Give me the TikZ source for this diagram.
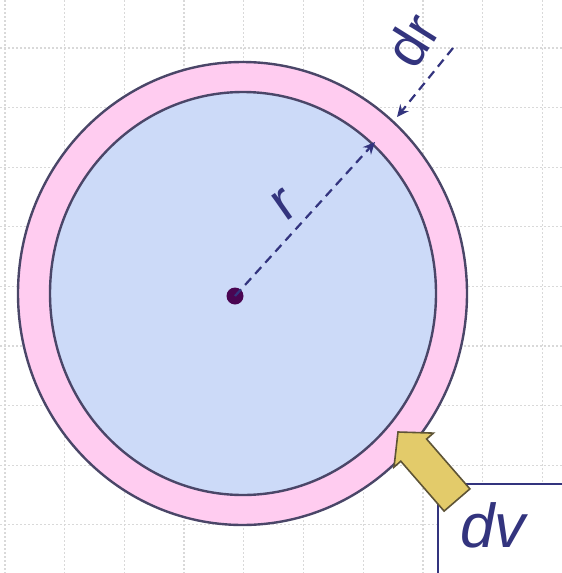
\documentclass[tikz,border=0pt]{standalone}
\usepackage{fontspec}
\setmainfont{Liberation Sans}
\usepackage{tikz}
\usetikzlibrary{arrows.meta,calc}
\definecolor{ringpink}{HTML}{FFCCF0}
\definecolor{coreblue}{HTML}{CCDAF8}
\definecolor{rimline}{HTML}{4A4668}
\definecolor{inkblue}{HTML}{33347E}
\definecolor{dotpurple}{HTML}{4A0552}
\definecolor{arrowgold}{HTML}{E3CB6A}
\definecolor{arrowedge}{HTML}{5E5436}

\begin{document}
\begin{tikzpicture}[
  x=1pt, y=-1pt,
  gridline/.style={draw=gray!30, line width=1.3pt, dash pattern=on 1.5pt off 2.5pt},
  rim/.style={draw=rimline, line width=2.4pt},
  dimarr/.style={draw=inkblue, line width=2.2pt, dash pattern=on 9pt off 6pt, -{Stealth[length=12pt, width=11pt]}},
  lbl/.style={text=inkblue, inner sep=0pt, font=\fontsize{56}{56}\selectfont},
]
  \useasboundingbox (0,0) rectangle (562,573);
  \clip (0,0) rectangle (562,573);

  % background grid
  \foreach \i in {0,...,9}
    \draw[gridline] ({5+59.7*\i},0) -- ({5+59.7*\i},573);
  \foreach \j in {0,...,8}
    \draw[gridline] (0,{48+59.6*\j}) -- (562,{48+59.6*\j});

  % shell and core
  \draw[rim, fill=ringpink] (242.5,293.5) ellipse [x radius=224.5, y radius=231.5];
  \draw[rim, fill=coreblue] (243,293.5) ellipse [x radius=193, y radius=201.5];

  \coordinate (centre) at (235,296);
  \coordinate (rtip) at (375,142);
  \coordinate (drstart) at (453,48);
  \coordinate (drtip) at (397,117);
  \fill[dotpurple] (centre) circle [radius=8.5];

  \draw[dimarr] (centre) -- (rtip);
  \draw[dimarr] (drstart) -- (drtip);

  \node[lbl, rotate=35] (rlabel) at (284,205) {r};
  \node[lbl, rotate=58] (drlabel) at (412,40) {dr};

  % label box and block arrow
  \node[draw=inkblue, line width=2pt, fill=white, anchor=north west,
        minimum width=160pt, minimum height=120pt] (dvbox) at (437,483) {};
  \node[text=inkblue, inner sep=0pt, anchor=base, font=\fontsize{62}{62}\selectfont\itshape]
    (dvlabel) at (493,547) {dv};
  \filldraw[fill=arrowgold, draw=arrowedge, line width=1.6pt, line join=miter]
    (398,432) -- (433.4,433.1) -- (426.6,439.0) -- (469.9,488.9)
    -- (444.1,511.1) -- (400.8,461.2) -- (394.0,467.1) -- cycle;
\end{tikzpicture}
\end{document}
